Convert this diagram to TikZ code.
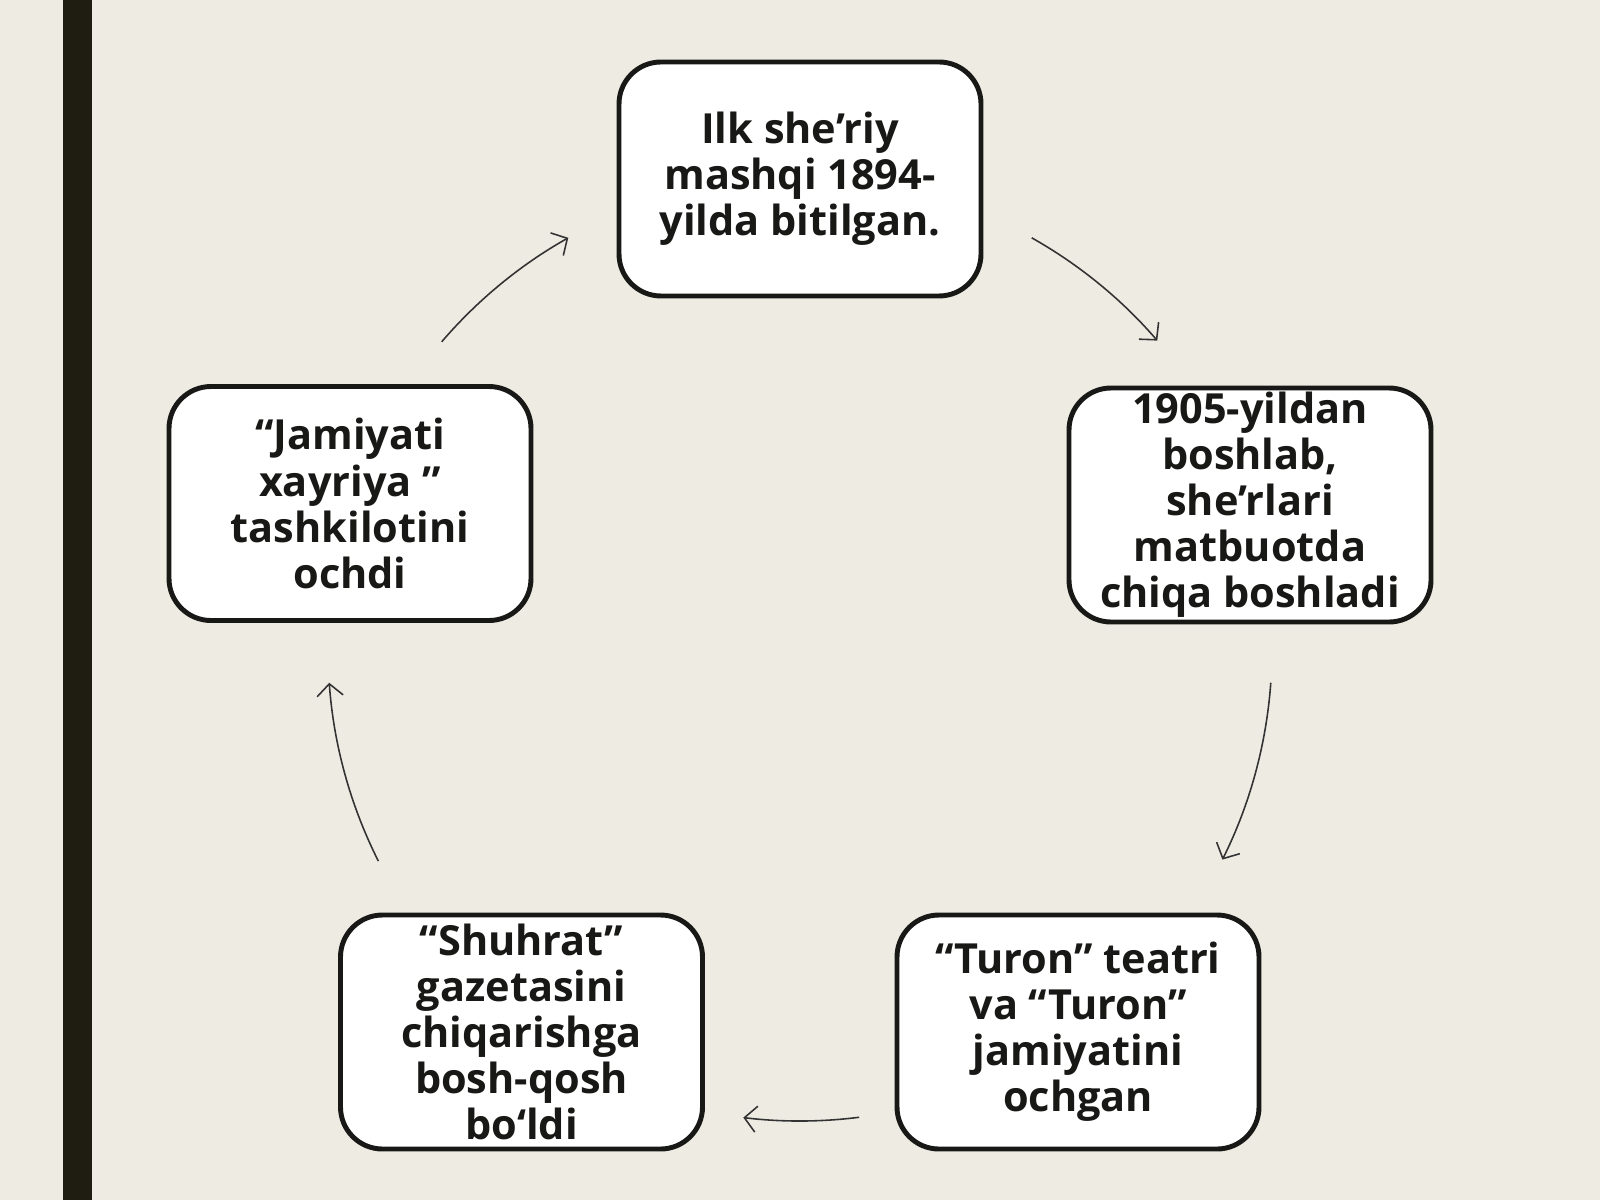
\documentclass[tikz,border=0pt]{standalone}
\usepackage{fontspec}
\setmainfont{Open Sans}
\usepackage{tikz}
\usetikzlibrary{arrows.meta, calc}
\definecolor{paper}{RGB}{238,235,226}
\definecolor{bar}{RGB}{31,28,18}
\definecolor{ink}{RGB}{24,24,22}
\tikzset{
  card/.style={draw=ink, line width=1.4pt, fill=white, rounded corners=0.42cm,
    minimum width=3.62cm, minimum height=2.34cm, inner sep=0pt, align=center,
    font=\fontsize{11.8}{13.1}\selectfont\bfseries, text=ink},
  flow/.style={-{Straight Barb[length=1.2mm, width=2.6mm]}, draw=black!80, line width=0.45pt}
}

\begin{document}
\begin{tikzpicture}
        \fill[paper] (0,0) rectangle (16,12);
        \fill[bar] (0.63,0) rectangle (0.92,12);
        \coordinate (hub) at (8.0,5.51);
        \node[card] (top) at (8.0,10.21) {Ilk she’riy\\mashqi 1894-\\yilda bitilgan.};
        \node[card] (right) at (12.5,6.95) {1905-yildan\\boshlab,\\she’rlari\\matbuotda\\chiqa boshladi};
        \node[card] (turon) at (10.78,1.68) {“Turon” teatri\\va “Turon”\\jamiyatini\\ochgan};
        \node[card] (shuhrat) at (5.215,1.68) {“Shuhrat”\\gazetasini\\chiqarishga\\bosh-qosh\\bo‘ldi};
        \node[card] (left) at (3.5,6.965) {“Jamiyati\\xayriya ”\\tashkilotini\\ochdi};
        % arrows round the ring
        \draw[flow] ($(hub)+(60.6:4.72)$) arc[start angle=60.6, end angle=40.8, radius=4.72];
        \draw[flow] ($(hub)+(-4.1:4.72)$) arc[start angle=-4.1, end angle=-26.5, radius=4.72];
        \draw[flow] ($(hub)+(-82.8:4.72)$) arc[start angle=-82.8, end angle=-96.9, radius=4.72];
        \draw[flow] ($(hub)+(206.7:4.72)$) arc[start angle=206.7, end angle=184.1, radius=4.72];
        \draw[flow] ($(hub)+(139.4:4.72)$) arc[start angle=139.4, end angle=119.4, radius=4.72];
    \end{tikzpicture}
\end{document}
